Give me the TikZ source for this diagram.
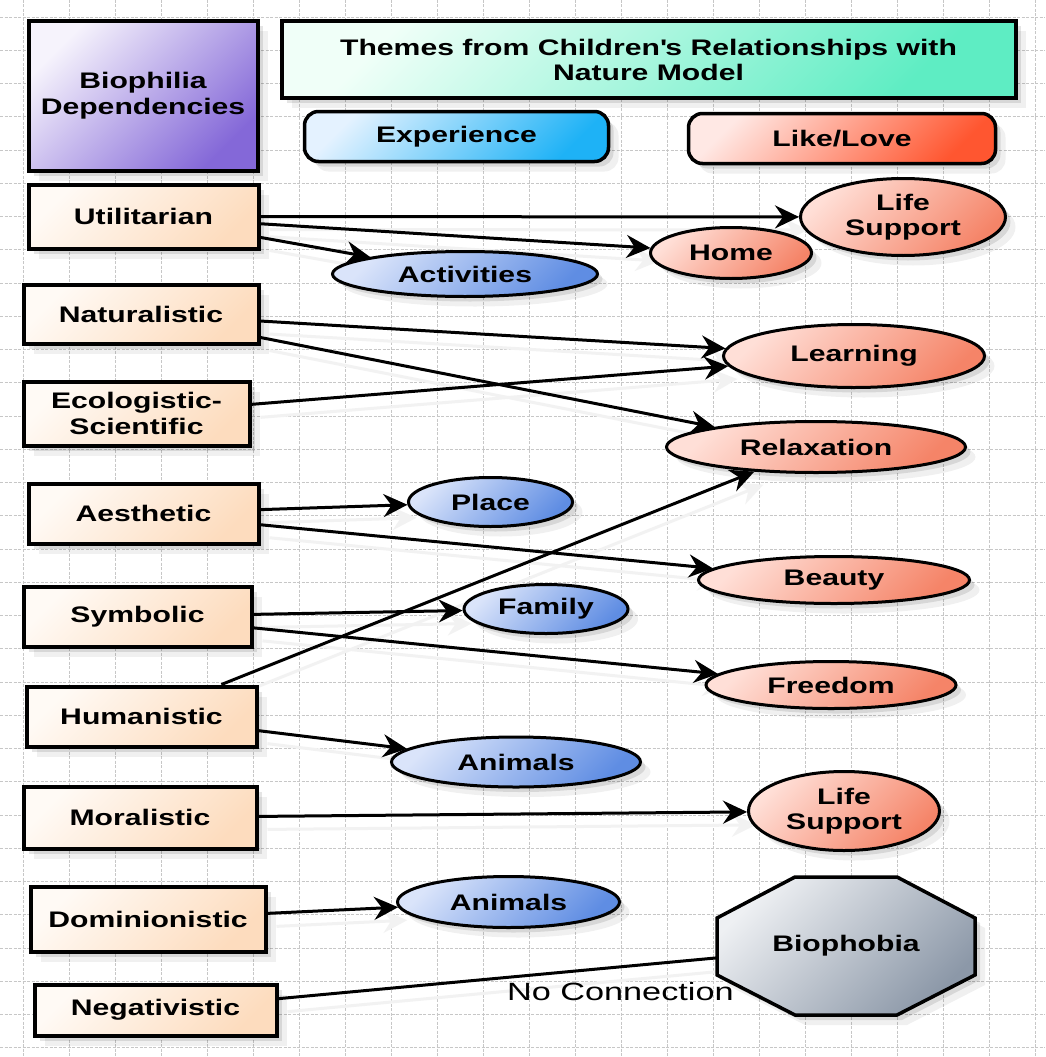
\documentclass[tikz,border=0pt]{standalone}
\usepackage{fontspec}
\setmainfont{Liberation Sans}
\newfontfamily\lblfont[FakeStretch=1.34]{Liberation Sans}
\newfontfamily\ncfont[FakeStretch=1.37]{Liberation Sans}
\usetikzlibrary{arrows.meta,shadows,shapes.geometric}
\pgfdeclarelayer{bg}
\pgfsetlayers{bg,main}
\definecolor{bioA}{HTML}{F6F3FC}\definecolor{bioB}{HTML}{8468D8}
\definecolor{titA}{HTML}{F0FFF8}\definecolor{titB}{HTML}{5EEDC3}
\definecolor{expA}{HTML}{E4F2FF}\definecolor{expB}{HTML}{1EB2F6}
\definecolor{likA}{HTML}{FFE8E4}\definecolor{likB}{HTML}{FF5630}
\definecolor{depA}{HTML}{FFFAF5}\definecolor{depB}{HTML}{FDDCBE}
\definecolor{bluA}{HTML}{DAE4FA}\definecolor{bluB}{HTML}{5F8DE3}
\definecolor{salA}{HTML}{FFDFD7}\definecolor{salB}{HTML}{F58468}
\definecolor{gryA}{HTML}{EEF0F3}\definecolor{gryB}{HTML}{8C98A8}
\tikzset{
  gridl/.style={draw=black!22, line width=0.9pt, dash pattern=on 3pt off 1.5pt},
  grad/.style 2 args={top color=#1, bottom color=#2, shading angle=45},
  shad/.style={drop shadow={shadow xshift=5pt, shadow yshift=-5pt, opacity=.10, fill=black},
               drop shadow={shadow xshift=10pt, shadow yshift=-10pt, opacity=.06, fill=black}},
  base/.style={font=\lblfont\bfseries\fontsize{22.5}{26}\selectfont, align=center, inner sep=0pt, text=black},
  depbox/.style={base, rectangle, draw=black, line width=4pt, grad={depA}{depB}, shad},
  headbox/.style={base, rectangle, draw=black, line width=4pt, shad},
  pill/.style={base, rectangle, rounded corners=14pt, draw=black, line width=3.5pt, shad},
  blueell/.style={base, ellipse, draw=black, line width=3pt, grad={bluA}{bluB}, shad},
  salell/.style={base, ellipse, draw=black, line width=3pt, grad={salA}{salB}, shad},
  tip/.style={-{Stealth[length=24pt,width=23pt,inset=8pt]}},
  conn/.style={draw=black, line width=3pt, tip},
  connsh/.style={draw=black!5, line width=3pt, tip, transform canvas={shift={(9pt,-13pt)}}},
  plainln/.style={draw=black, line width=3pt},
  nctext/.style={font=\ncfont\fontsize{25}{29}\selectfont, inner sep=0pt, text=black}
}
\begin{document}
\begin{tikzpicture}[x=1pt,y=-1pt]
\useasboundingbox (0,0) rectangle (1045,1057);
\begin{pgfonlayer}{bg}
\fill[white] (0,0) rectangle (1045,1057);
\foreach \gx in {23,69,...,1035} \draw[gridl] (\gx,0) -- (\gx,1057);
\foreach \gi in {0,...,31} \draw[gridl] (0,{17+33.25*\gi}) -- (1045,{17+33.25*\gi});
\end{pgfonlayer}

% headers
\node[headbox, grad={bioA}{bioB}, minimum width=229pt, minimum height=149pt] (bio) at (143,96) {Biophilia\\Dependencies};
\node[headbox, grad={titA}{titB}, minimum width=734pt, minimum height=76pt, font=\lblfont\bfseries\fontsize{22.5}{25}\selectfont] (title) at (648.5,59.5) {Themes from Children\textquotesingle s Relationships with\\Nature Model};
\node[pill, grad={expA}{expB}, minimum width=304pt, minimum height=50pt] (exp) at (456.5,136.5) {Experience};
\node[pill, grad={likA}{likB}, minimum width=307pt, minimum height=50pt] (like) at (842,138.5) {Like/Love};

% dependencies
\node[depbox, minimum width=230pt, minimum height=64pt] (util) at (143.5,216.5) {Utilitarian};
\node[depbox, minimum width=235pt, minimum height=59pt] (nat) at (141,314) {Naturalistic};
\node[depbox, minimum width=226pt, minimum height=64pt] (eco) at (136.5,413.5) {Ecologistic-\\Scientific};
\node[depbox, minimum width=230pt, minimum height=60pt] (aes) at (143.5,513.5) {Aesthetic};
\node[depbox, minimum width=228pt, minimum height=60pt] (sym) at (137.5,616.5) {Symbolic};
\node[depbox, minimum width=230pt, minimum height=60pt] (hum) at (141.5,716.5) {Humanistic};
\node[depbox, minimum width=233pt, minimum height=62pt] (mor) at (140,817.5) {Moralistic};
\node[depbox, minimum width=235pt, minimum height=65pt] (dom) at (148,919) {Dominionistic};
\node[depbox, minimum width=242pt, minimum height=51pt] (neg) at (155.5,1010) {Negativistic};

% themes
\node[salell, minimum width=205pt, minimum height=77pt, font=\lblfont\bfseries\fontsize{22.5}{25}\selectfont] (lsup1) at (903,217) {Life\\Support};
\node[salell, minimum width=161pt, minimum height=51pt] (home) at (731,253) {Home};
\node[blueell, minimum width=265pt, minimum height=45pt] (act) at (465,274) {Activities};
\node[salell, minimum width=261pt, minimum height=63pt] (learn) at (854,356) {Learning};
\node[salell, minimum width=299pt, minimum height=51pt] (relax) at (816,447) {Relaxation};
\node[blueell, minimum width=164pt, minimum height=49pt] (place) at (490.5,502) {Place};
\node[salell, minimum width=271pt, minimum height=47pt] (beauty) at (834,580) {Beauty};
\node[blueell, minimum width=164pt, minimum height=49pt] (family) at (546,609) {Family};
\node[salell, minimum width=250pt, minimum height=47pt] (freedom) at (831,685) {Freedom};
\node[blueell, minimum width=249pt, minimum height=50pt] (anim1) at (516,762) {Animals};
\node[salell, minimum width=191pt, minimum height=79pt, font=\lblfont\bfseries\fontsize{22.5}{25}\selectfont] (lsup2) at (844,811) {Life\\Support};
\node[blueell, minimum width=222pt, minimum height=51pt] (anim2) at (508.5,902) {Animals};

% biophobia octagon
\path[draw=black, line width=3.5pt, grad={gryA}{gryB}, shad]
  (795,877) -- (897,877) -- (975,918) -- (975,975) -- (897,1015) -- (795,1015) -- (717,975) -- (717,918) -- cycle;
\node[base, rectangle, minimum width=258pt, minimum height=138pt] (bph) at (846,946) {Biophobia};

% connector shadows
\begin{pgfonlayer}{bg}
\foreach \a/\b in {util/lsup1,util/home,util/act,nat/learn,nat/relax,eco/learn,aes/place,aes/beauty,sym/family,sym/freedom,hum/relax,hum/anim1,mor/lsup2,dom/anim2}
  \draw[connsh] (\a) -- (\b);
\draw[draw=black!5, line width=3pt, transform canvas={shift={(9pt,-13pt)}}] (neg) -- (bph);
\end{pgfonlayer}

% connectors
\draw[conn] (util) -- (lsup1);
\draw[conn] (util) -- (home);
\draw[conn] (util) -- (act);
\draw[conn] (nat) -- (learn);
\draw[conn] (nat) -- (relax);
\draw[conn] (eco) -- (learn);
\draw[conn] (aes) -- (place);
\draw[conn] (aes) -- (beauty);
\draw[conn] (sym) -- (family);
\draw[conn] (sym) -- (freedom);
\draw[conn] (hum) -- (relax);
\draw[conn] (hum) -- (anim1);
\draw[conn] (mor) -- (lsup2);
\draw[conn] (dom) -- (anim2);
\draw[plainln] (neg) -- (bph) node[nctext, pos=0.78, yshift=-25pt] {No Connection};
\end{tikzpicture}
\end{document}
